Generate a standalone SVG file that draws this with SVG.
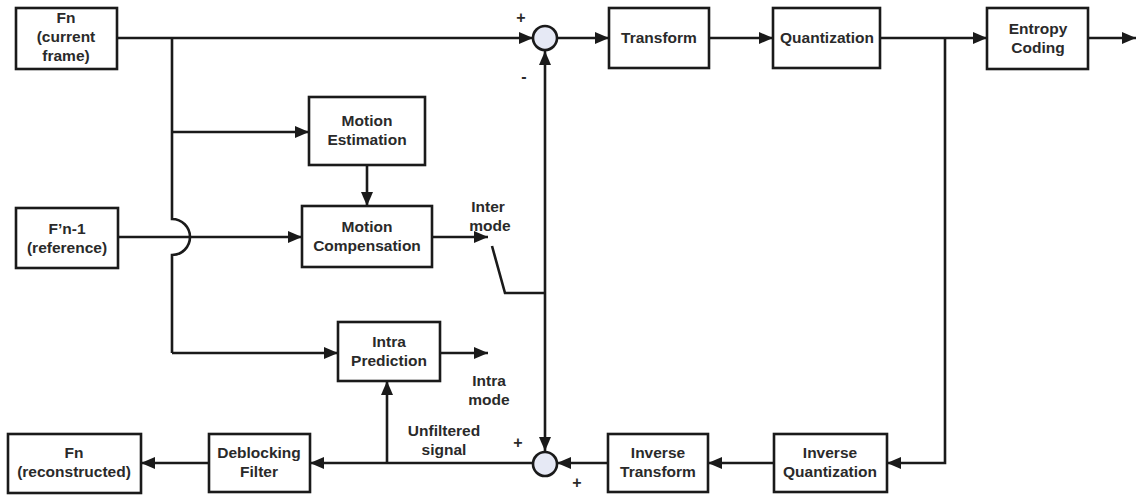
<svg xmlns="http://www.w3.org/2000/svg" width="1144" height="497" viewBox="0 0 1144 497">
  <style>
    .box { fill: #ffffff; stroke: #1a1a1a; stroke-width: 2.6; }
    .sum { fill: #e6e9f5; stroke: #1a1a1a; stroke-width: 2.6; }
    .wire { fill: none; stroke: #1a1a1a; stroke-width: 2.6; }
    .arr { marker-end: url(#head); }
    text { font-family: "Liberation Sans", Arial, sans-serif; font-weight: bold; font-size: 15.5px; fill: #2a2a2a; text-anchor: middle; }
    .sign { font-size: 16px; }
  </style>
  <defs>
    <marker id="head" viewBox="0 0 14 12" refX="14" refY="6" markerWidth="14" markerHeight="12" markerUnits="userSpaceOnUse" orient="auto">
      <path d="M0,0 L14,6 L0,12 z" fill="#1a1a1a"/>
    </marker>
  </defs>

  <rect width="1144" height="497" fill="#ffffff"/>

  <!-- connectors -->
  <g id="connectors">
    <!-- current frame to top summing junction -->
    <path class="wire arr" d="M117,38 H533"/>
    <!-- branch feeding motion estimation and intra prediction, hopping over the reference line -->
    <path class="wire" d="M172,38 V219 A18,18 0 0 1 172,255 V353"/>
    <path class="wire arr" d="M172,132 H309"/>
    <path class="wire arr" d="M172,353 H338"/>
    <!-- reference frame to motion compensation -->
    <path class="wire arr" d="M118,237 H302"/>
    <!-- motion estimation to motion compensation -->
    <path class="wire arr" d="M367,165 V206"/>
    <!-- inter / intra outputs -->
    <path class="wire arr" d="M432,237 H488"/>
    <path class="wire arr" d="M440,353 H488"/>
    <!-- mode switch -->
    <path class="wire" d="M492,246 L505,293 H545"/>
    <!-- prediction to both summing junctions -->
    <path class="wire arr" d="M545,293 V51"/>
    <path class="wire arr" d="M545,293 V451"/>
    <!-- forward path -->
    <path class="wire arr" d="M557,38 H609"/>
    <path class="wire arr" d="M709,38 H773"/>
    <path class="wire arr" d="M880,38 H987"/>
    <path class="wire arr" d="M1088,38 H1136"/>
    <!-- reconstruction loop -->
    <path class="wire arr" d="M945,38 V463 H887"/>
    <path class="wire arr" d="M774,463 H708"/>
    <path class="wire arr" d="M608,463 H557"/>
    <path class="wire arr" d="M533,463 H310"/>
    <path class="wire arr" d="M387,463 V381"/>
    <path class="wire arr" d="M209,463 H141"/>
  </g>

  <!-- nodes -->
  <g id="fn-current">
    <rect class="box" x="16" y="8" width="101" height="61"/>
    <text x="66" y="23">Fn</text>
    <text x="66" y="42">(current</text>
    <text x="66" y="61">frame)</text>
  </g>
  <g id="fn1-reference">
    <rect class="box" x="16" y="208" width="102" height="60"/>
    <text x="67" y="234">F’n-1</text>
    <text x="67" y="253">(reference)</text>
  </g>
  <g id="motion-estimation">
    <rect class="box" x="309" y="97" width="116" height="68"/>
    <text x="367" y="126">Motion</text>
    <text x="367" y="145">Estimation</text>
  </g>
  <g id="motion-compensation">
    <rect class="box" x="302" y="206" width="130" height="61"/>
    <text x="367" y="232">Motion</text>
    <text x="367" y="251">Compensation</text>
  </g>
  <g id="intra-prediction">
    <rect class="box" x="338" y="322" width="102" height="59"/>
    <text x="389" y="347">Intra</text>
    <text x="389" y="366">Prediction</text>
  </g>
  <g id="sum-top">
    <circle class="sum" cx="545" cy="38" r="12"/>
    <text class="sign" x="521" y="23">+</text>
    <text class="sign" x="524" y="82">-</text>
  </g>
  <g id="sum-bottom">
    <circle class="sum" cx="545" cy="464" r="12"/>
    <text class="sign" x="518" y="448">+</text>
    <text class="sign" x="577" y="488">+</text>
  </g>
  <g id="transform">
    <rect class="box" x="609" y="8" width="100" height="60"/>
    <text x="659" y="43">Transform</text>
  </g>
  <g id="quantization">
    <rect class="box" x="773" y="8" width="107" height="60"/>
    <text x="827" y="43">Quantization</text>
  </g>
  <g id="entropy-coding">
    <rect class="box" x="987" y="8" width="101" height="61"/>
    <text x="1038" y="34">Entropy</text>
    <text x="1038" y="53">Coding</text>
  </g>
  <g id="inverse-quantization">
    <rect class="box" x="774" y="434" width="113" height="58"/>
    <text x="830" y="458">Inverse</text>
    <text x="830" y="477">Quantization</text>
  </g>
  <g id="inverse-transform">
    <rect class="box" x="608" y="434" width="100" height="58"/>
    <text x="658" y="458">Inverse</text>
    <text x="658" y="477">Transform</text>
  </g>
  <g id="deblocking-filter">
    <rect class="box" x="209" y="434" width="101" height="58"/>
    <text x="259" y="458">Deblocking</text>
    <text x="259" y="477">Filter</text>
  </g>
  <g id="fn-reconstructed">
    <rect class="box" x="8" y="434" width="133" height="59"/>
    <text x="74" y="458">Fn</text>
    <text x="74" y="477">(reconstructed)</text>
  </g>

  <!-- signal labels -->
  <g id="labels">
    <text x="488" y="212">Inter</text>
    <text x="490" y="231">mode</text>
    <text x="489" y="386">Intra</text>
    <text x="489" y="405">mode</text>
    <text x="444" y="436">Unfiltered</text>
    <text x="444" y="455">signal</text>
  </g>
</svg>
